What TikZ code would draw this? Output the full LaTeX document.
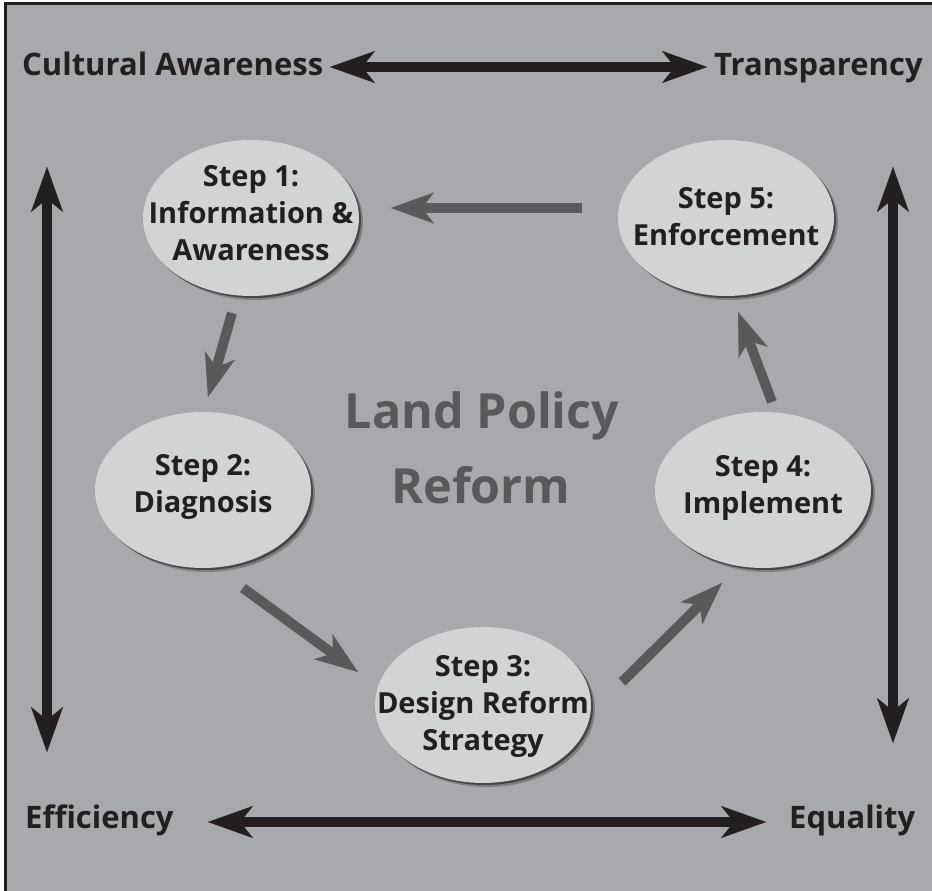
\documentclass[tikz,border=0pt]{standalone}
\usepackage{fontspec}
\setmainfont{Open Sans}
\usetikzlibrary{arrows.meta,shadows,shapes.geometric}
\definecolor{bg}{HTML}{A7A9AC}
\definecolor{ink}{HTML}{231F20}
\definecolor{ellfill}{HTML}{D1D3D4}
\definecolor{garrow}{HTML}{58595B}
\tikzset{
  bigtip/.tip={Stealth[length=45pt,width=32pt,inset=13pt,line width=0.01pt]},
  gtip/.tip={Stealth[length=43pt,width=31pt,inset=12pt,line width=0.01pt]},
  blackarrow/.style={draw=ink, line width=10pt, bigtip-bigtip},
  grayarrow/.style={draw=garrow, line width=10pt, -gtip},
  stepell/.style={ellipse, fill=ellfill, minimum width=216pt, minimum height=156pt, inner sep=0pt,
    drop shadow={shadow xshift=4pt, shadow yshift=-4pt, fill=black, opacity=0.25},
    drop shadow={shadow xshift=2pt, shadow yshift=-2pt, fill=black, opacity=0.45}},
  steptext/.style={font=\bfseries\fontsize{29}{37}\selectfont, text=ink, align=center, inner sep=0pt},
  sidetext/.style={font=\bfseries\fontsize{31}{38}\selectfont, text=ink, inner sep=0pt},
  titletext/.style={font=\bfseries\fontsize{48.5}{58}\selectfont, text=garrow, inner sep=0pt},
}
\begin{document}
\begin{tikzpicture}[x=1pt,y=-1pt]
\useasboundingbox (0,0) rectangle (932,891);
\fill[white] (0,0) rectangle (932,891);
\fill[bg] (5,4) rectangle (945,905);
\draw[ink, line width=3pt] (945,4) -- (5,4) -- (5,905);

% side labels
\node[sidetext, anchor=base west] (cult) at (22,75) {Cultural Awareness};
\node[sidetext, anchor=base west] (trans) at (714,75) {Transparency};
\node[sidetext, anchor=base west] (eff) at (25,828) {Efficiency};
\node[sidetext, anchor=base west] (equ) at (789,828) {Equality};

% black double arrows
\coordinate (tl) at (330,67);
\coordinate (tr) at (707,67);
\coordinate (bl) at (208,822);
\coordinate (br) at (766,822);
\coordinate (lt) at (47,167);
\coordinate (lb) at (47,752);
\coordinate (rt) at (893,167);
\coordinate (rb) at (893,743);
\draw[blackarrow] (tl) -- (tr);
\draw[blackarrow] (bl) -- (br);
\draw[blackarrow] (lt) -- (lb);
\draw[blackarrow] (rt) -- (rb);

% centre title
\node[titletext, anchor=base] (land) at (482,428) {Land Policy};
\node[titletext, anchor=base] (reform) at (481,503) {Reform};

% step ellipses
\node[stepell] (s1) at (251,218) {};
\node[stepell] (s2) at (203,490) {};
\node[stepell] (s3) at (483,705) {};
\node[stepell] (s4) at (763,490) {};
\node[stepell] (s5) at (726,218) {};

\node[steptext] (s1t) at (251,213) {Step 1:\\Information \&\\Awareness};
\node[steptext] (s2t) at (203,487) {Step 2:\\Diagnosis};
\node[steptext] (s3t) at (483,706) {Step 3:\\Design Reform\\Strategy};
\node[steptext] (s4t) at (763,488) {Step 4:\\Implement};
\node[steptext] (s5t) at (726,217) {Step 5:\\Enforcement};

% gray process arrows
\coordinate (a51) at (582,208);
\coordinate (a51e) at (391,208);
\coordinate (a12) at (232,313);
\coordinate (a12e) at (208,397);
\coordinate (a23) at (243,588);
\coordinate (a23e) at (358,672);
\coordinate (a34) at (622,682);
\coordinate (a34e) at (722,583);
\coordinate (a45) at (772,402);
\coordinate (a45e) at (738,312);
\draw[grayarrow] (a51) -- (a51e);
\draw[grayarrow] (a12) -- (a12e);
\draw[grayarrow] (a23) -- (a23e);
\draw[grayarrow] (a34) -- (a34e);
\draw[grayarrow] (a45) -- (a45e);
\end{tikzpicture}
\end{document}
